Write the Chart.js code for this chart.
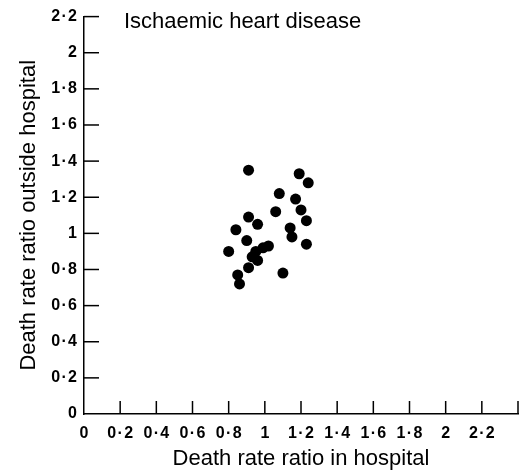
<!DOCTYPE html>
<html>
<head>
<meta charset="utf-8">
<script src="https://cdn.jsdelivr.net/npm/chart.js@4.4.0/dist/chart.umd.min.js"></script>
<style>
  html, body { margin: 0; padding: 0; background: #fff; }
  #wrap { width: 528px; height: 473px; }
</style>
</head>
<body>
<div id="wrap"><canvas id="chart"></canvas></div>
<script>
// death rate ratio in hospital (x) vs outside hospital (y)
const inHospital = [0.91, 1.19, 1.24, 1.08, 1.17, 1.20, 1.06, 1.23, 0.91, 0.96, 1.14, 1.15,
  0.84, 0.90, 0.80, 1.23, 1.02, 0.99, 0.95, 0.93, 0.96, 0.91, 1.10, 0.85, 0.86];
const outsideHospital = [1.35, 1.33, 1.28, 1.22, 1.19, 1.13, 1.12, 1.07, 1.09, 1.05, 1.03, 0.98,
  1.02, 0.96, 0.90, 0.94, 0.93, 0.92, 0.90, 0.87, 0.85, 0.81, 0.78, 0.77, 0.72];
const chartTitle = "Ischaemic heart disease";
const xTitle = "Death rate ratio in hospital";
const yTitle = "Death rate ratio outside hospital";

let points = [];
inHospital.forEach((x, i) => {
    points.push({ x: x, y: outsideHospital[i] });
});

function fmt(v) {
    let r = Math.round(v * 10) / 10;
    return String(r).replace('.', '\u200a\u00b7\u200a');
}

// ticks pointing into the plot + label in the corner
const extras = {
    id: 'extras',
    afterDraw(chart) {
        const ctx = chart.ctx;
        const xs = chart.scales.x, ys = chart.scales.y;
        const area = chart.chartArea;
        ctx.save();
        ctx.strokeStyle = '#000';
        ctx.lineWidth = 1.5;
        xs.ticks.forEach(t => {
            if (t.value === 0) return;
            let px = xs.getPixelForValue(t.value);
            ctx.beginPath();
            ctx.moveTo(px, area.bottom);
            ctx.lineTo(px, area.bottom - 13);
            ctx.stroke();
        });
        ys.ticks.forEach(t => {
            if (t.value === 0) return;
            let py = ys.getPixelForValue(t.value);
            ctx.beginPath();
            ctx.moveTo(area.left, py);
            ctx.lineTo(area.left + 15, py);
            ctx.stroke();
        });
        ctx.fillStyle = '#000';
        ctx.font = '22px "Liberation Sans"';
        ctx.textBaseline = 'middle';
        ctx.textAlign = 'left';
        ctx.fillText(chartTitle, area.left + 40, 22);
        ctx.restore();
    }
};

new Chart(document.getElementById('chart'), {
    type: 'scatter',
    data: {
        datasets: [{
            data: points,
            backgroundColor: '#000',
            borderWidth: 0,
            pointRadius: 5.5,
            pointHoverRadius: 5.5
        }]
    },
    options: {
        responsive: true,
        maintainAspectRatio: false,
        animation: false,
        layout: { padding: { top: 15, right: 5, left: 0, bottom: 0 } },
        plugins: {
            legend: { display: false },
            tooltip: { enabled: false }
        },
        scales: {
            x: {
                type: 'linear',
                min: 0,
                max: 2.4,
                afterFit: s => { s.height = 59; },
                grid: { display: false, drawTicks: false },
                border: { display: true, color: '#000', width: 1.5 },
                ticks: {
                    stepSize: 0.2,
                    padding: 10,
                    color: '#000',
                    maxRotation: 0,
                    autoSkip: false,
                    font: { family: 'Liberation Sans', size: 16, weight: 'bold' },
                    callback: v => (Math.round(v * 10) / 10 > 2.3 ? '' : fmt(v))
                },
                title: {
                    display: true,
                    text: xTitle,
                    color: '#000',
                    font: { family: 'Liberation Sans', size: 22 },
                    padding: { top: 0, bottom: 1 }
                }
            },
            y: {
                type: 'linear',
                min: 0,
                max: 2.2,
                afterFit: s => { s.width = 84; },
                grid: { display: false, drawTicks: false },
                border: { display: true, color: '#000', width: 1.5 },
                ticks: {
                    stepSize: 0.2,
                    padding: 7,
                    color: '#000',
                    autoSkip: false,
                    font: { family: 'Liberation Sans', size: 16, weight: 'bold' },
                    callback: v => fmt(v)
                },
                title: {
                    display: true,
                    text: yTitle,
                    color: '#000',
                    font: { family: 'Liberation Sans', size: 22 },
                    padding: { top: 16, bottom: 0 }
                }
            }
        }
    },
    plugins: [extras]
});
</script>
</body>
</html>
